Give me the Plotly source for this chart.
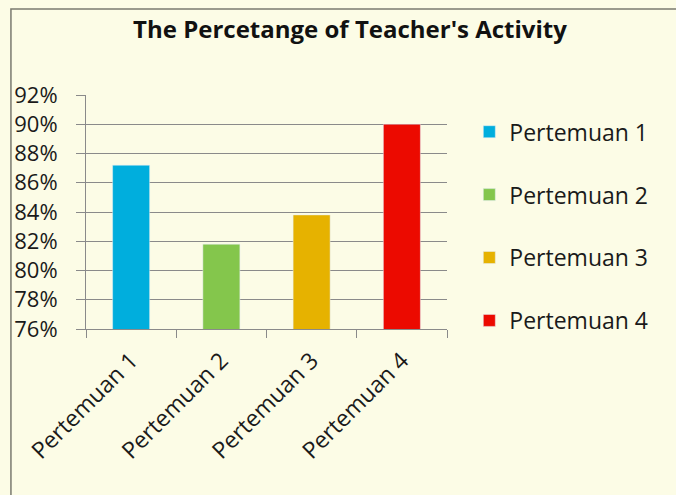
import plotly.graph_objects as go

categories = ["Pertemuan 1", "Pertemuan 2", "Pertemuan 3", "Pertemuan 4"]
values = [87.2, 81.8, 83.8, 90.0]
colors = ["#00AEDD", "#84C64C", "#E6B200", "#EC0A00"]
y_ticks = [76, 78, 80, 82, 84, 86, 88, 90, 92]
y_tick_labels = [f"{v}%" for v in y_ticks]

W, H = 676, 495
L, R_edge, T, B_edge = 86, 446.7, 94.7, 329.3

fig = go.Figure()
for c, v, col in zip(categories, values, colors):
    fig.add_trace(go.Bar(
        x=[c], y=[v], name=c, marker_color=col, width=0.41,
        legendgroup=c, showlegend=True,
    ))

font = "Open Sans"
fig.update_layout(
    width=W, height=H,
    margin=dict(l=L, r=W - R_edge, t=T, b=H - B_edge, pad=0, autoexpand=False),
    paper_bgcolor="#FCFCE6",
    plot_bgcolor="rgba(0,0,0,0)",
    barmode="overlay",
    title=dict(text="<b>The Percetange of Teacher's Activity</b>",
               x=350 / W, xanchor="center", y=1 - 30 / H, yanchor="middle",
               font=dict(family=font, size=24, color="#111111")),
    font=dict(family=font, size=22, color="#1a1a1a"),
    legend=dict(x=(469 - L) / (R_edge - L), xanchor="left",
                y=(B_edge - 110) / (B_edge - T), yanchor="top",
                traceorder="grouped", tracegroupgap=30,
                font=dict(family=font, size=23, color="#1a1a1a"),
                bgcolor="rgba(0,0,0,0)"),
    showlegend=True,
)
fig.update_xaxes(
    categoryorder="array", categoryarray=categories,
    showline=True, linecolor="#8a8a8a", linewidth=1,
    ticks="outside", tickson="boundaries", ticklen=8, tickcolor="#8a8a8a",
    tickangle=-45, showgrid=False, ticklabelstandoff=8,
    tickfont=dict(family=font, size=23, color="#1a1a1a"),
)
fig.update_yaxes(
    range=[76, 92], tickvals=y_ticks, ticktext=y_tick_labels,
    showline=True, linecolor="#8a8a8a", linewidth=1,
    ticks="outside", ticklen=9, tickcolor="#8a8a8a",
    ticklabelstandoff=14,
    showgrid=True, gridcolor="#8a8a8a", gridwidth=1,
    zeroline=False,
    tickfont=dict(family=font, size=22, color="#1a1a1a"),
)

# outer chart border (extends past the image edges on right and bottom)
fig.add_shape(type="rect", xref="paper", yref="paper",
              x0=(11 - L) / (R_edge - L), x1=(700 - L) / (R_edge - L),
              y0=(B_edge - 520) / (B_edge - T), y1=(B_edge - 8.5) / (B_edge - T),
              line=dict(color="#7a7a70", width=1.5), layer="above")

fig.write_html(
    "out.html",
    config={"displayModeBar": False},
    post_script="document.body.style.margin='0';document.body.style.background='#FCFCE6';",
)
